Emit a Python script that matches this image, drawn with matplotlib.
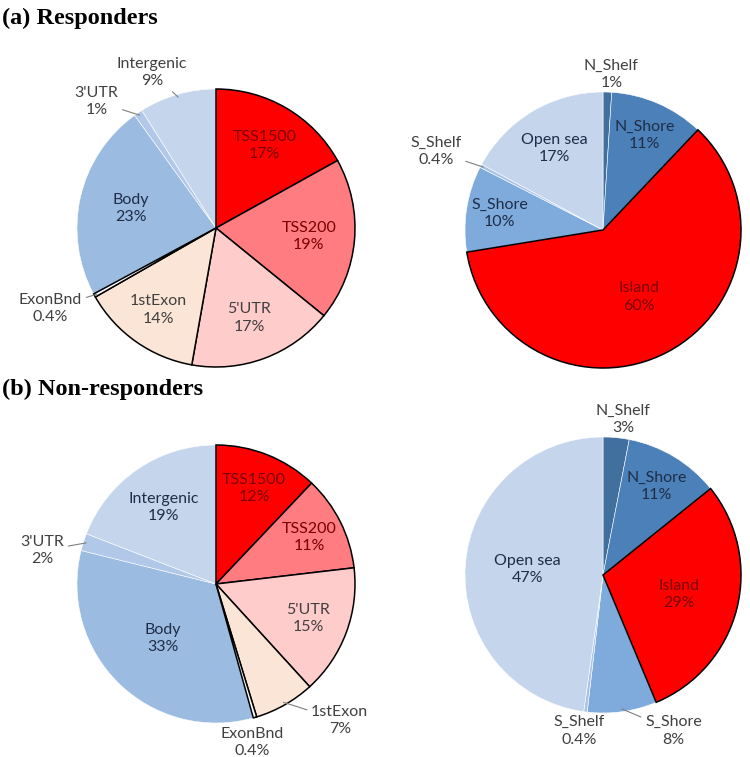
import numpy as np
import matplotlib
matplotlib.use('Agg')
import matplotlib.pyplot as plt

#--------------------------------------------------#
gene_labels = ['TSS1500', 'TSS200', "5'UTR", '1stExon', 'ExonBnd', 'Body', "3'UTR", 'Intergenic']
cgi_labels = ['N_Shelf', 'N_Shore', 'Island', 'S_Shore', 'S_Shelf', 'Open sea']

resp_gene = [17, 19, 17, 14, 0.4, 23, 1, 9]
resp_cgi = [1, 11, 60, 10, 0.4, 17]
nonresp_gene = [12, 11, 15, 7, 0.4, 33, 2, 19]
nonresp_cgi = [3, 11, 29, 8, 0.4, 47]

gene_colors = ['#ff0000', '#ff7c80', '#ffcccc', '#fbe5d6', '#ffffff', '#9bbbe0', '#b2c8e8', '#c5d6ec']
cgi_colors = ['#41709f', '#4b80b9', '#ff0000', '#7eaadc', '#a9c3e6', '#c4d5ec']
gene_black = [True, True, True, True, True, False, False, False]
cgi_black = [False, False, True, False, False, False]

dark_red = '#7a0000'
navy = '#1f2d47'
grey = '#404040'
gene_txt = [dark_red, dark_red, grey, grey, grey, navy, navy, navy]
cgi_txt = [navy, navy, dark_red, navy, navy, navy]
#--------------------------------------------------#

W, H = 750, 757
fig = plt.figure(figsize=(W/100, H/100), dpi=100)
lblfont = dict(family=['Lato', 'DejaVu Sans'], fontsize=11.5, linespacing=1.3)

def fmt(v):
    return '{:g}%'.format(v)

def draw_pie(cx, cy, r, values, labels, colors, black, txtcols, outside):
    #cx, cy, r in pixels; outside = {index: (x, y, leader)} in axis units
    ax = fig.add_axes([(cx-r)/W, 1-(cy+r)/H, 2*r/W, 2*r/H])
    wedges, _ = ax.pie(values, colors=colors, startangle=90, counterclock=False, radius=1)
    total = float(sum(values))
    for i, w in enumerate(wedges):
        if black[i]:
            w.set_edgecolor('black')
            w.set_linewidth(1.1)
            w.set_zorder(3)
        else:
            w.set_edgecolor('white')
            w.set_linewidth(0.4)
            w.set_zorder(2)
        mid = np.deg2rad((w.theta1 + w.theta2) / 2)
        text = labels[i] + '\n' + fmt(values[i])
        if i in outside:
            tx, ty, leader = outside[i]
            if leader:
                ax.annotate(text, xy=(np.cos(mid)*0.98, np.sin(mid)*0.98), xytext=(tx, ty),
                            ha='center', va='center', color=grey, zorder=5,
                            arrowprops=dict(arrowstyle='-', color='#808080', lw=0.8,
                                            shrinkA=1, shrinkB=0), **lblfont)
            else:
                ax.text(tx, ty, text, ha='center', va='center', color=grey, zorder=5, **lblfont)
        else:
            d = min(0.76, max(0.55, 0.86 - values[i]/total))  #small slices get labels further out
            ax.text(np.cos(mid)*d, np.sin(mid)*d, text, ha='center', va='center',
                    color=txtcols[i], zorder=5, **lblfont)
    ax.set_xlim(-1, 1)
    ax.set_ylim(-1, 1)
    ax.set_aspect('equal')
    ax.axis('off')
    return ax

draw_pie(216, 228, 139, resp_gene, gene_labels, gene_colors, gene_black, gene_txt,
         {7: (-0.46, 1.12, True), 6: (-0.86, 0.91, True), 4: (-1.19, -0.58, True)})
draw_pie(603, 230, 138, resp_cgi, cgi_labels, cgi_colors, cgi_black, cgi_txt,
         {0: (0.06, 1.13, False), 4: (-1.21, 0.57, True)})
draw_pie(216, 584, 139, nonresp_gene, gene_labels, gene_colors, gene_black, gene_txt,
         {6: (-1.25, 0.24, True), 3: (0.89, -0.98, True), 4: (0.26, -1.14, False)})
draw_pie(603, 575, 138, nonresp_cgi, cgi_labels, cgi_colors, cgi_black, cgi_txt,
         {0: (0.145, 1.13, False), 4: (-0.17, -1.13, False), 3: (0.51, -1.13, True)})

titlefont = dict(family=['Liberation Serif', 'DejaVu Serif'], fontsize=17.5, fontweight='bold')
fig.text(2/W, 1-18/H, '(a) Responders', ha='left', va='center', **titlefont)
fig.text(2/W, 1-389/H, '(b) Non-responders', ha='left', va='center', **titlefont)

fig.savefig('out.png', dpi=100, facecolor='white')
